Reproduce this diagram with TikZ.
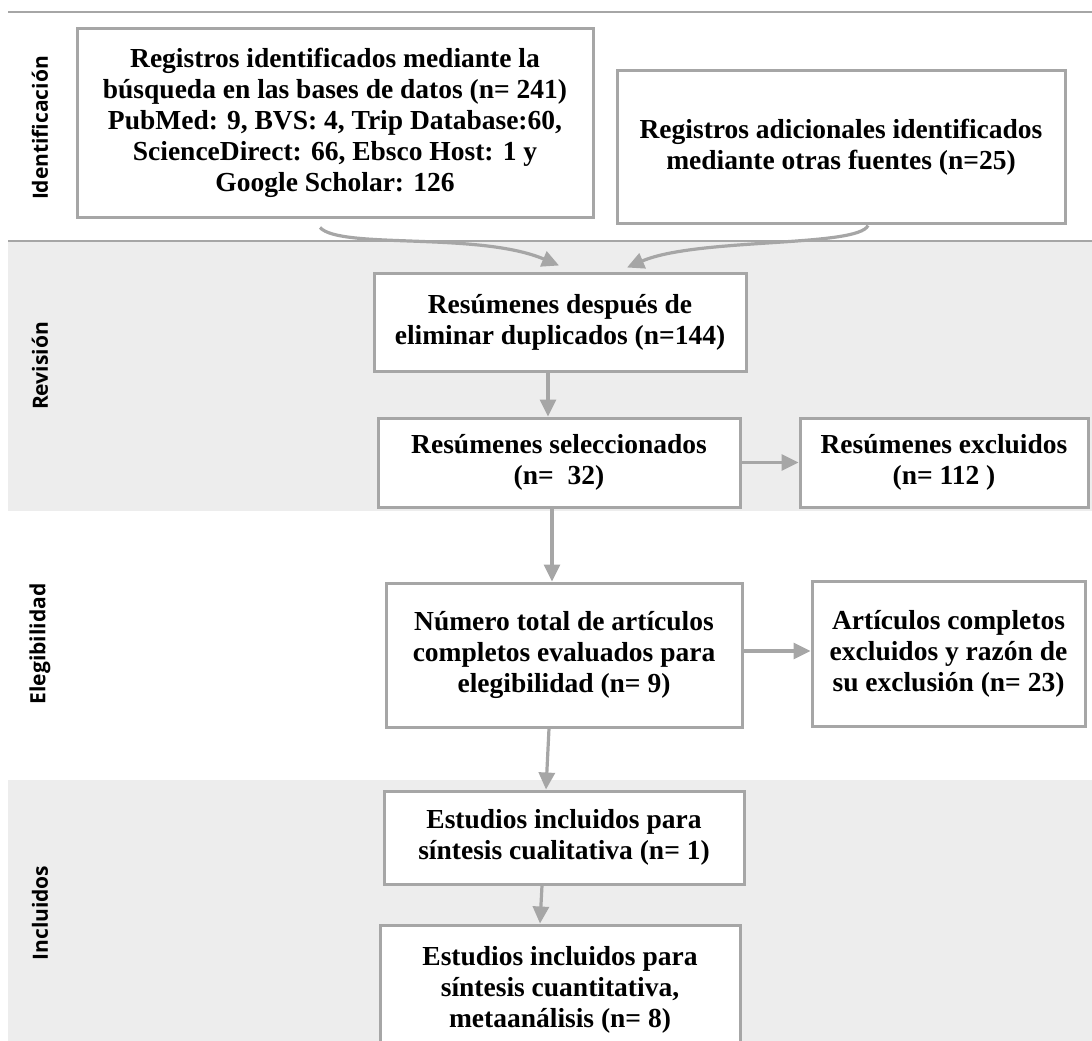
\documentclass[tikz,border=0pt]{standalone}
\usepackage{fontspec}
\setmainfont{Liberation Serif}
\newfontfamily\sidefont{Open Sans}
\usepackage{tikz}
\usetikzlibrary{arrows.meta, positioning}
\usepackage{xcolor}
\definecolor{linegray}{HTML}{A6A6A6}
\definecolor{bandgray}{HTML}{EDEDED}

\tikzset{
    box/.style={draw=linegray, line width=3pt, fill=white, align=center, inner sep=0pt,
        font=\fontsize{27.5}{31}\selectfont\bfseries},
    arr/.style={draw=linegray, line width=3.2pt, -{Triangle[length=17pt,width=16pt]}},
    sidelabel/.style={rotate=90, font=\sidefont\fontsize{21}{24}\selectfont\bfseries},
}

\begin{document}
\begin{tikzpicture}[x=1pt, y=-1pt]
    \useasboundingbox (0,0) rectangle (1092,1041);
    \clip (0,0) rectangle (1092,1041);

    % Bands
    \draw[linegray, line width=2.5pt] (8,12) -- (1092,12);
    \fill[bandgray] (8,241) rectangle (1092,511);
    \draw[linegray, line width=2.5pt] (8,241) -- (1092,241);
    \fill[bandgray] (8,780) rectangle (1092,1041);

    % Side labels
    \node[sidelabel] (lblident) at (40,128) {Identificación};
    \node[sidelabel] (lblrev) at (40,366) {Revisión};
    \node[sidelabel] (lbleleg) at (40,644) {Elegibilidad};
    \node[sidelabel] (lblincl) at (40,913) {Incluidos};

    % Identification
    \node[box, minimum width=516pt, minimum height=188pt] (regA) at (335,123)
        {Registros identificados mediante la\\ búsqueda en las bases de datos (n= 241)\\
         PubMed: 9, BVS: 4, Trip Database:60,\\ ScienceDirect: 66, Ebsco Host: 1 y\\ Google Scholar: 126};
    \node[box, minimum width=448pt, minimum height=152pt] (regB) at (841,147)
        {Registros adicionales identificados\\ mediante otras fuentes (n=25)};

    % Screening
    \node[box, minimum width=372pt, minimum height=98pt] (dup) at (560,322)
        {Resúmenes después de\\ eliminar duplicados (n=144)};
    \node[box, minimum width=362pt, minimum height=89pt] (sel) at (559,462.5)
        {Resúmenes seleccionados\\ (n=\ \ 32)};
    \node[box, minimum width=288pt, minimum height=89pt] (excl) at (944,462.5)
        {Resúmenes excluidos\\ (n= 112 )};

    % Eligibility
    \node[box, minimum width=356pt, minimum height=144pt] (full) at (564,655)
        {Número total de artículos\\ completos evaluados para\\ elegibilidad (n= 9)};
    \node[box, minimum width=273pt, minimum height=145pt] (fexcl) at (948.5,653.5)
        {Artículos completos\\ excluidos y razón de\\ su exclusión (n= 23)};

    % Included
    \node[box, minimum width=360pt, minimum height=93pt] (qual) at (564,837.5)
        {Estudios incluidos para\\ síntesis cualitativa (n= 1)};
    \node[box, minimum width=360pt, minimum height=130pt] (quant) at (560,990)
        {Estudios incluidos para\\ síntesis cuantitativa,\\ metaanálisis (n= 8)};

    % Curved arrows into duplicates box
    \draw[arr] ([xshift=-15pt,yshift=-9pt]regA.south) .. controls +(20,22) and +(-80,-34) .. ([xshift=-1pt,yshift=6pt]dup.north);
    \draw[arr] ([xshift=27pt,yshift=-1pt]regB.south) .. controls +(-10,22) and +(70,-30) .. ([xshift=67pt,yshift=4pt]dup.north);

    % Straight arrows
    \draw[arr] ([xshift=-12pt]dup.south) -- ([xshift=-11pt]sel.north);
    \draw[arr] (sel.east) -- (excl.west);
    \draw[arr] ([xshift=-7pt]sel.south) -- ([xshift=-12pt]full.north);
    \draw[arr] ([yshift=4pt]full.east) -- ([yshift=2.5pt]fexcl.west);
    \draw[arr] ([xshift=-15pt]full.south) -- ([xshift=-18pt]qual.north);
    \draw[arr] ([xshift=-22pt]qual.south) -- ([xshift=-20pt]quant.north);
\end{tikzpicture}
\end{document}
